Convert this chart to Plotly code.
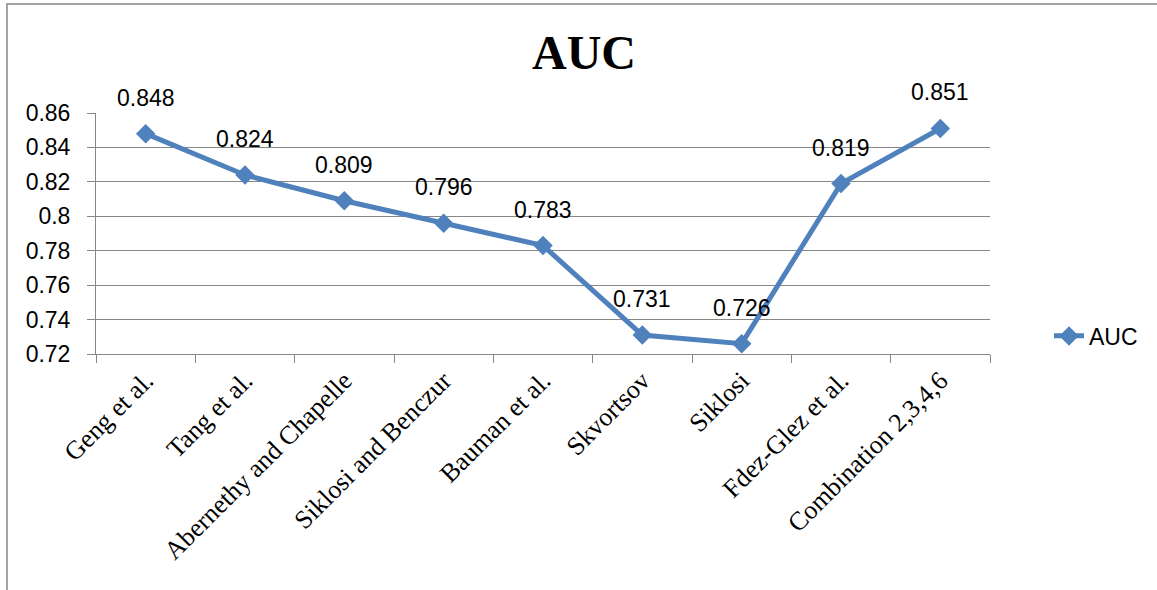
import plotly.graph_objects as go

categories = ["Geng et al.", "Tang et al.", "Abernethy and Chapelle", "Siklosi and Benczur",
              "Bauman et al.", "Skvortsov", "Siklosi", "Fdez-Glez et al.", "Combination 2,3,4,6"]
auc = [0.848, 0.824, 0.809, 0.796, 0.783, 0.731, 0.726, 0.819, 0.851]
ytick_vals = [0.72, 0.74, 0.76, 0.78, 0.80, 0.82, 0.84, 0.86]
ytick_text = ["0.72", "0.74", "0.76", "0.78", "0.8", "0.82", "0.84", "0.86"]

blue = "#4F81BD"
gray = "#878787"
sans = "Liberation Sans, Arial, sans-serif"
serif = "Liberation Serif, Times New Roman, serif"

fig = go.Figure()
fig.add_trace(go.Scatter(
    x=categories, y=auc, mode="lines+markers", name="AUC",
    line=dict(color=blue, width=5),
    marker=dict(symbol="diamond", size=15, color=blue),
))

for c, v in zip(categories, auc):
    fig.add_annotation(x=c, y=v, text=f"{v:.3f}", showarrow=False,
                       yshift=36, font=dict(family=sans, size=23, color="black"))

fig.update_layout(
    width=1157, height=590,
    margin=dict(l=96, r=167, t=113, b=236),
    paper_bgcolor="white", plot_bgcolor="white",
    title=dict(text="<b>AUC</b>", x=(584 / 1157), xanchor="center", y=1 - 52 / 590, yanchor="middle",
               font=dict(family=serif, size=48, color="black")),
    showlegend=True,
    legend=dict(x=1.066, xanchor="left", y=0.075, yanchor="middle",
                font=dict(family=sans, size=23, color="black"),
                bgcolor="rgba(0,0,0,0)"),
    xaxis=dict(type="category", showgrid=False, showline=True, linecolor=gray, linewidth=1,
               ticks="outside", tickson="boundaries", ticklen=8, tickcolor=gray,
               tickangle=-45, tickfont=dict(family=serif, size=26, color="black"),
               automargin=False, range=[-0.5, 8.5]),
    yaxis=dict(range=[0.72, 0.86], tickvals=ytick_vals, ticktext=ytick_text,
               showgrid=True, gridcolor=gray, gridwidth=1, zeroline=False,
               showline=True, linecolor=gray, linewidth=1,
               ticks="outside", ticklen=8, tickcolor=gray, ticklabelstandoff=12,
               tickfont=dict(family=sans, size=23, color="black")),
)

# outer chart border (top and left edges visible)
fig.add_shape(type="rect", xref="paper", yref="paper",
              x0=(7 - 96) / 894, x1=1.3, y0=-1.2, y1=(354 - 4) / 241,
              line=dict(color=gray, width=1.5), layer="below")

fig.write_html("out.html")
